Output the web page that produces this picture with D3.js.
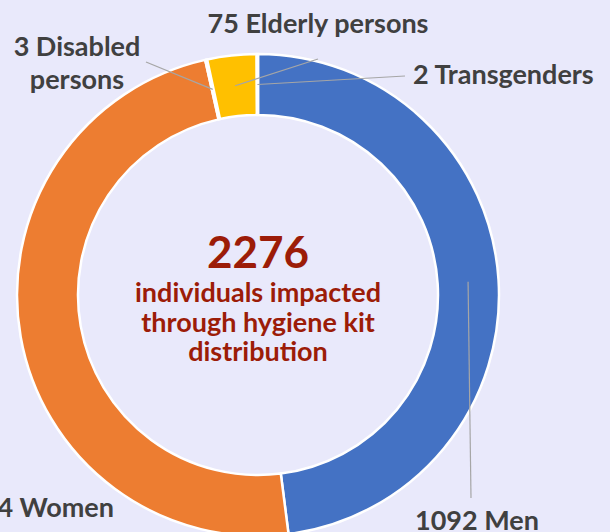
<!DOCTYPE html>
<html>
<head>
<meta charset="utf-8">
<script src="https://cdn.jsdelivr.net/npm/d3@7"></script>
<style>
  body { margin: 0; background: #e9e9fb; }
  svg { display: block; }
  .lbl { font-family: Lato, "Open Sans", sans-serif; font-weight: 700; fill: #404040; }
  .center { font-family: Lato, "Open Sans", sans-serif; font-weight: 700; fill: #9c1c08; }
</style>
</head>
<body>
<div id="chart"></div>
<script>
// data
const groups = ['Men', 'Women', 'Disabled persons', 'Elderly persons', 'Transgenders'];
const counts = [1092, 1104, 3, 75, 2];
const colors = ['#4472c4', '#ed7d31', '#a5a5a5', '#ffc000', '#5b9bd5'];
const totalLabel = ['individuals impacted', 'through hygiene kit', 'distribution'];

// label layout (anchor point of each label, leader end point)
const labelLayout = {
  'Men': {x: 415, y: 530, anchor: 'start', lines: ['1092 Men'], end: [471, 498]},
  'Women': {x: 114, y: 517, anchor: 'end', lines: ['1104 Women'], end: null},
  'Disabled persons': {x: 77, y: 56, anchor: 'middle', lines: ['3 Disabled', 'persons'], end: [146, 62]},
  'Elderly persons': {x: 318, y: 33, anchor: 'middle', lines: ['75 Elderly persons'], end: [318, 59]},
  'Transgenders': {x: 413, y: 84, anchor: 'start', lines: ['2 Transgenders'], end: [405, 76]}
};

const width = 610, height = 532;
const cx = 258, cy = 295, outerR = 241, innerR = 180;

const svg = d3.select('#chart').append('svg')
    .attr('width', width)
    .attr('height', height);

svg.append('rect')
    .attr('width', width)
    .attr('height', height)
    .attr('fill', '#e9e9fb');

const g = svg.append('g')
    .attr('transform', `translate(${cx},${cy})`);

const data = groups.map((d, i) => ({name: d, value: counts[i], color: colors[i]}));

const pie = d3.pie()
    .sort(null)
    .value(d => d.value);

const arc = d3.arc()
    .innerRadius(innerR)
    .outerRadius(outerR);

const arcs = pie(data);

g.selectAll('path.slice')
  .data(arcs)
  .enter().append('path')
    .attr('class', 'slice')
    .attr('d', arc)
    .attr('fill', d => d.data.color)
    .attr('stroke', '#ffffff')
    .attr('stroke-width', 2.5)
    .attr('stroke-linejoin', 'round');

// leader lines from arc centroid to label
g.selectAll('line.leader')
  .data(arcs.filter(d => labelLayout[d.data.name].end))
  .enter().append('line')
    .attr('class', 'leader')
    .attr('x1', d => arc.centroid(d)[0])
    .attr('y1', d => arc.centroid(d)[1])
    .attr('x2', d => labelLayout[d.data.name].end[0] - cx)
    .attr('y2', d => labelLayout[d.data.name].end[1] - cy)
    .attr('stroke', '#a6a6a6')
    .attr('stroke-width', 1.2);

// labels
const labels = svg.selectAll('text.lbl')
  .data(arcs)
  .enter().append('text')
    .attr('class', 'lbl')
    .attr('font-size', 27)
    .attr('text-anchor', d => labelLayout[d.data.name].anchor)
    .attr('x', d => labelLayout[d.data.name].x)
    .attr('y', d => labelLayout[d.data.name].y);

labels.each(function(d) {
  const lay = labelLayout[d.data.name];
  d3.select(this).selectAll('tspan')
    .data(lay.lines)
    .enter().append('tspan')
      .attr('x', lay.x)
      .attr('dy', (t, i) => i === 0 ? 0 : 33)
      .text(t => t);
});

// center text
const total = d3.sum(counts);
svg.append('text')
    .attr('class', 'center')
    .attr('x', cx)
    .attr('y', 268)
    .attr('text-anchor', 'middle')
    .attr('font-size', 44)
    .text(total);

svg.append('text')
    .attr('class', 'center')
    .attr('text-anchor', 'middle')
    .attr('font-size', 27)
  .selectAll('tspan')
  .data(totalLabel)
  .enter().append('tspan')
    .attr('x', cx)
    .attr('y', (d, i) => 302 + i * 29.5)
    .text(d => d);
</script>
</body>
</html>
